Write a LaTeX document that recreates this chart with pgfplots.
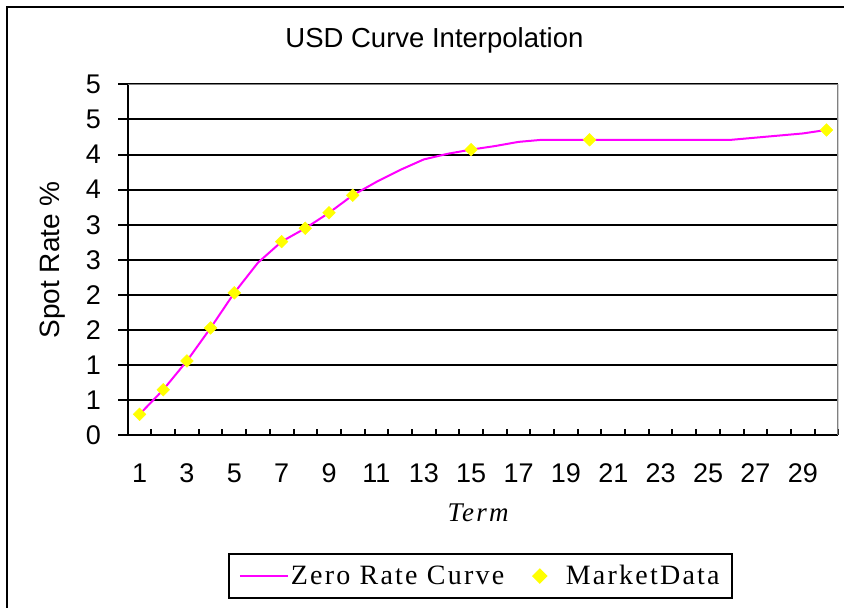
\documentclass[border=0pt]{standalone}
\usepackage{fontspec}
\setmainfont{Liberation Sans}
\newfontfamily\legfont[LetterSpace=8]{Liberation Serif}
\usepackage{pgfplots}
\pgfplotsset{compat=1.18}
\definecolor{zmag}{RGB}{255,0,255}
\definecolor{myyel}{RGB}{255,255,0}
\definecolor{bordergray}{RGB}{128,128,128}
\pgfplotsset{
  mylegline/.style={legend image code/.code={\draw[##1] (0pt,0pt) -- (48pt,0pt);}},
  mylegmark/.style={legend image code/.code={\draw[##1] plot coordinates {(0pt,0pt)}; \path (-6.5pt,0pt) (23pt,0pt);}},
}

\begin{document}
\begin{tikzpicture}
\useasboundingbox (0,0) rectangle (844pt,608pt);
\fill[white] (0,0) rectangle (844pt,608pt);
\draw[line width=2pt] (7.3pt,0pt) -- (7.3pt,601.3pt) -- (844pt,601.3pt);
\begin{axis}[
  at={(127.7pt,172.6pt)}, anchor=south west,
  scale only axis, width=710.6pt, height=351.1pt,
  xmin=0.5, xmax=30.5, ymin=0, ymax=5,
  axis x line*=bottom, axis y line*=left,
  axis line style={line width=2pt, black},
  xtick={1,3,...,29},
  xticklabels={1,3,5,7,9,11,13,15,17,19,21,23,25,27,29},
  minor xtick={0.5,1.5,...,30.5},
  ytick={0,0.5,...,5},
  yticklabels={0,1,1,2,2,3,3,4,4,5,5},
  xtick align=inside, ytick align=outside,
  major tick length=9.3pt, minor tick length=6.7pt,
  major x tick style={draw=none},
  minor x tick style={line width=2pt, black},
  major y tick style={line width=2pt, black},
  ymajorgrids, major grid style={line width=2pt, black},
  tick label style={font=\fontsize{27}{30}\selectfont},
  xticklabel style={yshift=-25pt},
  yticklabel style={xshift=-14pt},
  title={USD Curve Interpolation},
  title style={at={(axis description cs:0.4317,1.109)}, anchor=center, font=\fontsize{27.5}{30}\selectfont},
  xlabel={Term},
  xlabel style={at={(axis description cs:0.493,-0.221)}, anchor=center, font=\legfont\itshape\fontsize{27}{30}\selectfont},
  ylabel={Spot Rate \%},
  ylabel style={at={(axis description cs:-0.1058,0.5)}, anchor=center, font=\fontsize{28}{30}\selectfont},
  legend columns=2,
  legend style={at={(axis description cs:0.4961,-0.4005)}, anchor=center, draw=black, line width=2pt,
    inner xsep=10pt, inner ysep=10pt,
    font=\legfont\fontsize{28}{30}\selectfont,
    /tikz/every even column/.append style={column sep=26pt}},
]
\addplot[zmag, line width=2pt, mark=none, mylegline] coordinates {
(1,0.30) (2,0.65) (3,1.06) (4,1.53) (5,2.03) (6,2.46) (7,2.76) (8,2.95) (9,3.17) (10,3.42)
(11,3.61) (12,3.78) (13,3.93) (14,4.01) (15,4.07) (16,4.12) (17,4.18) (18,4.21) (19,4.21) (20,4.21)
(21,4.21) (22,4.21) (23,4.21) (24,4.21) (25,4.21) (26,4.21) (27,4.24) (28,4.27) (29,4.30) (30,4.35)
};
\addlegendentry{Zero Rate Curve}
\addplot[only marks, mark=square*, mark size=4.5pt, mark options={rotate=45, fill=myyel, draw=myyel}, mylegmark] coordinates {
(1,0.30) (2,0.65) (3,1.06) (4,1.53) (5,2.03) (7,2.76) (8,2.95) (9,3.17) (10,3.42) (15,4.07) (20,4.21) (30,4.35)
};
\addlegendentry{MarketData}
\draw[bordergray, line width=2pt] (rel axis cs:0,1) -- (rel axis cs:1,1) -- (rel axis cs:1,0);
\end{axis}
\end{tikzpicture}
\end{document}
